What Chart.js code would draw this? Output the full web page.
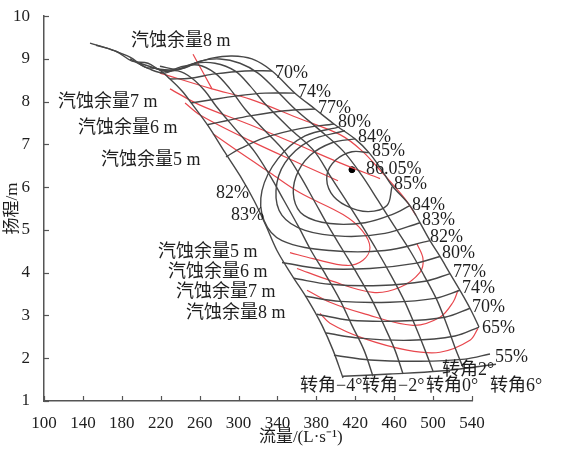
<!DOCTYPE html>
<html>
<head>
<meta charset="utf-8">
<script src="https://cdn.jsdelivr.net/npm/chart.js@4.4.1/dist/chart.umd.min.js"></script>
<style>
  html, body { margin: 0; padding: 0; background: #fff; }
  #wrap { width: 573px; height: 451px; }
</style>
</head>
<body>
<div id="wrap"><canvas id="myChart"></canvas></div>
<script>
// ticks
const xTicks = [100, 140, 180, 220, 260, 300, 340, 380, 420, 460, 500, 540];
const yTicks = [1, 2, 3, 4, 5, 6, 7, 8, 9, 10];

// Q-H curves for each blade angle, [Q (L/s), H (m)]
const bladeM4 = [[147.3,9.37],[169.9,9.21],[188.4,9.04],[203.8,8.81],[217.2,8.76],[229.5,8.53],[241.9,8.25],[252.1,7.95],[268.6,7.44],[285.0,6.85],[301.5,6.27],[315.9,5.69],[328.2,5.10],[339.5,4.52],[354.9,3.94],[371.4,3.36],[385.8,2.77],[397.1,2.19],[407.4,1.54]];
const bladeM2 = [[153.5,9.32],[174.0,9.18],[190.5,8.95],[206.9,8.90],[221.3,8.72],[237.8,8.72],[252.1,8.55],[265.5,8.25],[276.8,7.90],[296.3,7.37],[315.9,6.85],[332.3,6.27],[346.7,5.69],[361.1,5.10],[374.5,4.52],[389.9,3.94],[404.3,3.36],[416.6,2.77],[429.0,2.19],[438.2,1.58]];
const blade0 = [[188.4,9.00],[209.0,8.76],[224.4,8.67],[239.8,8.81],[258.3,8.86],[275.8,8.67],[291.2,8.30],[306.6,7.83],[327.2,7.32],[346.7,6.85],[363.2,6.27],[377.6,5.69],[392.0,5.10],[407.4,4.52],[422.8,3.94],[437.2,3.36],[449.5,2.77],[460.8,2.19],[469.1,1.63]];
const blade2 = [[198.7,8.90],[219.2,8.76],[237.8,8.76],[255.2,8.90],[275.8,8.90],[296.3,8.72],[311.8,8.37],[327.2,7.95],[352.9,7.37],[377.6,6.85],[394.0,6.27],[410.5,5.69],[426.9,5.10],[442.3,4.52],[456.7,3.94],[470.1,3.36],[481.4,2.77],[491.7,2.19],[499.9,1.70]];
const blade4 = [[209.0,8.81],[227.5,8.72],[245.0,8.79],[260.4,8.95],[280.9,9.00],[301.5,8.90],[320.0,8.67],[337.5,8.30],[358.0,7.83],[381.7,7.37],[407.4,6.85],[426.9,6.27],[443.4,5.69],[459.8,5.10],[476.2,4.52],[490.6,3.94],[504.0,3.36],[514.3,2.77],[523.5,2.19],[530.7,1.79]];
const blade6 = [[219.2,8.83],[237.8,8.76],[255.2,8.90],[272.7,9.02],[293.3,9.07],[313.8,9.00],[334.4,8.72],[358.0,8.20],[378.6,7.83],[398.1,7.48],[419.7,7.13],[434.1,6.81],[446.4,6.43],[457.7,6.04],[476.2,5.57],[486.5,5.17],[496.8,4.75],[507.1,4.38],[517.4,3.98],[527.6,3.59],[537.9,3.17],[547.2,2.73],[558.5,2.14],[564.7,1.86]];

// efficiency contours
const eff85 = [[434.1,6.81],[416.6,6.83],[400.2,6.64],[390.9,6.29],[395.0,5.87],[410.5,5.57],[433.1,5.43],[452.6,5.57],[457.7,6.01]];
const eff84 = [[419.7,7.13],[396.1,7.04],[373.4,6.74],[359.1,6.25],[357.0,5.73],[367.3,5.34],[394.0,5.15],[430.0,5.17],[457.7,5.36],[476.2,5.57]];
const eff83 = [[409.4,7.32],[373.4,7.09],[347.7,6.57],[338.5,5.92],[344.7,5.34],[368.3,4.99],[409.4,4.85],[450.5,4.92],[486.5,5.17]];
const eff82 = [[404.3,7.41],[368.3,7.20],[340.6,6.67],[324.1,5.92],[326.2,5.22],[344.7,4.75],[394.0,4.52],[450.5,4.52],[496.8,4.75]];
const eff80Up = [[398.1,7.48],[363.2,7.37],[327.2,7.16],[301.5,6.90],[287.1,6.71]];
const eff80Low = [[344.7,4.24],[383.7,4.10],[435.1,4.10],[481.4,4.22],[507.1,4.38]];
const eff77Up = [[378.6,7.83],[347.7,7.79],[311.8,7.67],[286.1,7.55],[267.6,7.46]];
const eff77Low = [[357.0,3.87],[394.0,3.73],[445.4,3.70],[491.7,3.80],[517.4,3.98]];
const eff74Up = [[358.0,8.20],[327.2,8.20],[296.3,8.13],[270.6,8.04],[251.1,7.97]];
const eff74Low = [[368.3,3.45],[404.3,3.33],[455.7,3.31],[501.9,3.40],[527.6,3.59]];
const eff70Up = [[334.4,8.72],[306.6,8.72],[275.8,8.65],[250.1,8.55],[229.5,8.53]];
const eff70Low = [[380.6,3.03],[414.6,2.89],[466.0,2.87],[512.2,2.96],[537.9,3.17]];
const eff65Low = [[389.9,2.59],[424.8,2.47],[476.2,2.42],[522.5,2.52],[547.2,2.73]];
const eff55Low = [[398.1,2.07],[435.1,1.96],[486.5,1.93],[532.8,1.98],[558.5,2.10]];
const effBase = [[407.4,1.58],[455.7,1.63],[507.1,1.70],[564.7,1.86]];
const bestPoint = [[416.6,6.41]];

// NPSH (汽蚀余量) curves
const npsh8Up = [[219.2,8.67],[272.7,8.30],[311.8,8.06],[363.2,7.60],[404.3,7.23],[426.9,6.85],[450.5,6.27],[471.1,5.73],[482.4,5.34]];
const npsh8Low = [[546.2,2.70],[537.9,2.42],[507.1,2.14],[473.2,2.19],[427.9,2.47],[394.0,2.82],[383.7,3.05]];
const npsh7Up = [[229.5,8.30],[260.4,7.92],[311.8,7.46],[363.2,6.97],[404.3,6.57],[445.4,6.20]];
const npsh7Low = [[525.6,3.59],[520.5,3.31],[507.1,2.96],[479.3,2.77],[427.9,3.05],[394.0,3.31],[370.4,3.59]];
const npsh6Up = [[245.0,7.97],[260.4,7.69],[311.8,7.09],[363.2,6.55],[402.2,6.15]];
const npsh6Low = [[483.4,4.68],[489.6,4.33],[486.5,4.01],[466.0,3.66],[438.2,3.54],[394.0,3.82],[360.1,4.10]];
const npsh5 = [[273.7,7.25],[301.5,6.81],[332.3,6.34],[363.2,5.87],[407.4,5.36],[426.9,4.99],[435.1,4.59],[427.9,4.29],[411.5,4.17],[376.5,4.33],[352.9,4.47]];
const npsh8Leader = [[253.2,9.11],[272.7,8.30]];

// text labels: [text, Q, H] (left edge, middle)
const effLabels = [
  ['70%',337.5,8.67],['74%',361.1,8.23],['77%',381.7,7.85],['80%',402.2,7.51],['84%',422.8,7.16],['85%',437.2,6.85],
  ['86.05%',431.0,6.43],['85%',459.8,6.08],['84%',478.3,5.57],['83%',488.6,5.22],['82%',496.8,4.82],['80%',509.2,4.45],
  ['77%',520.5,4.01],['74%',529.7,3.63],['70%',540.0,3.19],['65%',550.3,2.70],['55%',563.6,2.03],
  ['82%',276.9,5.85],['83%',292.3,5.34]
];
const npshLabels = [
  ['汽蚀余量8 m',189.5,9.42],['汽蚀余量7 m',114.4,7.99],['汽蚀余量6 m',135.0,7.37],['汽蚀余量5 m',158.7,6.62],
  ['汽蚀余量5 m',217.2,4.47],['汽蚀余量6 m',227.5,4.01],['汽蚀余量7 m',235.8,3.54],['汽蚀余量8 m',246.0,3.05]
];
const bladeLabels = [
  ['转角−4°',363.2,1.35],['转角−2°',426.9,1.35],['转角0°',492.7,1.35],['转角2°',509.2,1.72],['转角6°',558.5,1.35]
];

const grayColor = '#474747';
const redColor = '#e8474d';
const axisColor = '#555';
const textColor = '#1e1e1e';
const serif = '"Liberation Serif", "Noto Sans CJK SC", serif';

const toPts = arr => arr.map(p => ({ x: p[0], y: p[1] }));

const grayLines = [bladeM4, bladeM2, blade0, blade2, blade4, blade6,
  eff85, eff84, eff83, eff82, eff80Up, eff80Low, eff77Up, eff77Low, eff74Up, eff74Low,
  eff70Up, eff70Low, eff65Low, eff55Low, effBase];
const redLines = [npsh8Up, npsh8Low, npsh7Up, npsh7Low, npsh6Up, npsh6Low, npsh5, npsh8Leader];

const lineSet = (arr, color, width) => ({
  data: toPts(arr),
  showLine: true,
  borderColor: color,
  borderWidth: width,
  pointRadius: 0,
  tension: 0.35,
  fill: false,
  clip: false
});

const datasets = [
  ...grayLines.map(a => lineSet(a, grayColor, 1.4)),
  ...redLines.map(a => lineSet(a, redColor, 1.2)),
  {
    data: toPts(bestPoint),
    pointRadius: 3,
    pointBackgroundColor: '#000',
    pointBorderColor: '#000',
    showLine: false
  }
];

// inward ticks + text labels
const drawExtras = {
  id: 'drawExtras',
  afterDraw(chart) {
    const { ctx, chartArea, scales: { x, y } } = chart;
    ctx.save();
    ctx.strokeStyle = axisColor;
    ctx.lineWidth = 1.2;
    xTicks.forEach(v => {
      const px = Math.round(x.getPixelForValue(v)) + 0.5;
      ctx.beginPath();
      ctx.moveTo(px, chartArea.bottom);
      ctx.lineTo(px, chartArea.bottom - 5);
      ctx.stroke();
    });
    yTicks.forEach(v => {
      const py = Math.round(y.getPixelForValue(v)) + 0.5;
      ctx.beginPath();
      ctx.moveTo(chartArea.left, py);
      ctx.lineTo(chartArea.left + 5, py);
      ctx.stroke();
    });

    ctx.fillStyle = textColor;
    ctx.textAlign = 'left';
    ctx.textBaseline = 'middle';
    ctx.font = '18px ' + serif;
    [...effLabels, ...npshLabels, ...bladeLabels].forEach(([t, q, h]) => {
      ctx.fillText(t, x.getPixelForValue(q), y.getPixelForValue(h));
    });

    // x axis title
    ctx.font = '17px ' + serif;
    ctx.textAlign = 'center';
    ctx.fillText('流量/(L·s⁻¹)', x.getPixelForValue(364), chartArea.bottom + 37);
    ctx.restore();
  }
};

new Chart(document.getElementById('myChart'), {
  type: 'scatter',
  data: { datasets },
  options: {
    responsive: true,
    maintainAspectRatio: false,
    animation: false,
    layout: { padding: { left: 0, right: 101, top: 15, bottom: 0 } },
    plugins: {
      legend: { display: false },
      tooltip: { enabled: false }
    },
    scales: {
      x: {
        type: 'linear',
        min: 100,
        max: 540,
        afterBuildTicks: s => { s.ticks = xTicks.map(v => ({ value: v })); },
        afterFit: s => { s.height = 50; },
        grid: { display: false },
        border: { display: true, color: axisColor, width: 1.5 },
        ticks: { color: textColor, padding: 4, font: { family: serif, size: 17 }, maxRotation: 0, autoSkip: false }
      },
      y: {
        type: 'linear',
        min: 1,
        max: 10,
        afterBuildTicks: s => { s.ticks = yTicks.map(v => ({ value: v })); },
        afterFit: s => { s.width = 44; },
        grid: { display: false },
        border: { display: true, color: axisColor, width: 1.5 },
        title: { display: true, text: '扬程/m', color: textColor, font: { family: serif, size: 17 }, padding: 2 },
        ticks: { color: textColor, padding: 6, font: { family: serif, size: 17 } }
      }
    }
  },
  plugins: [drawExtras]
});
</script>
</body>
</html>
